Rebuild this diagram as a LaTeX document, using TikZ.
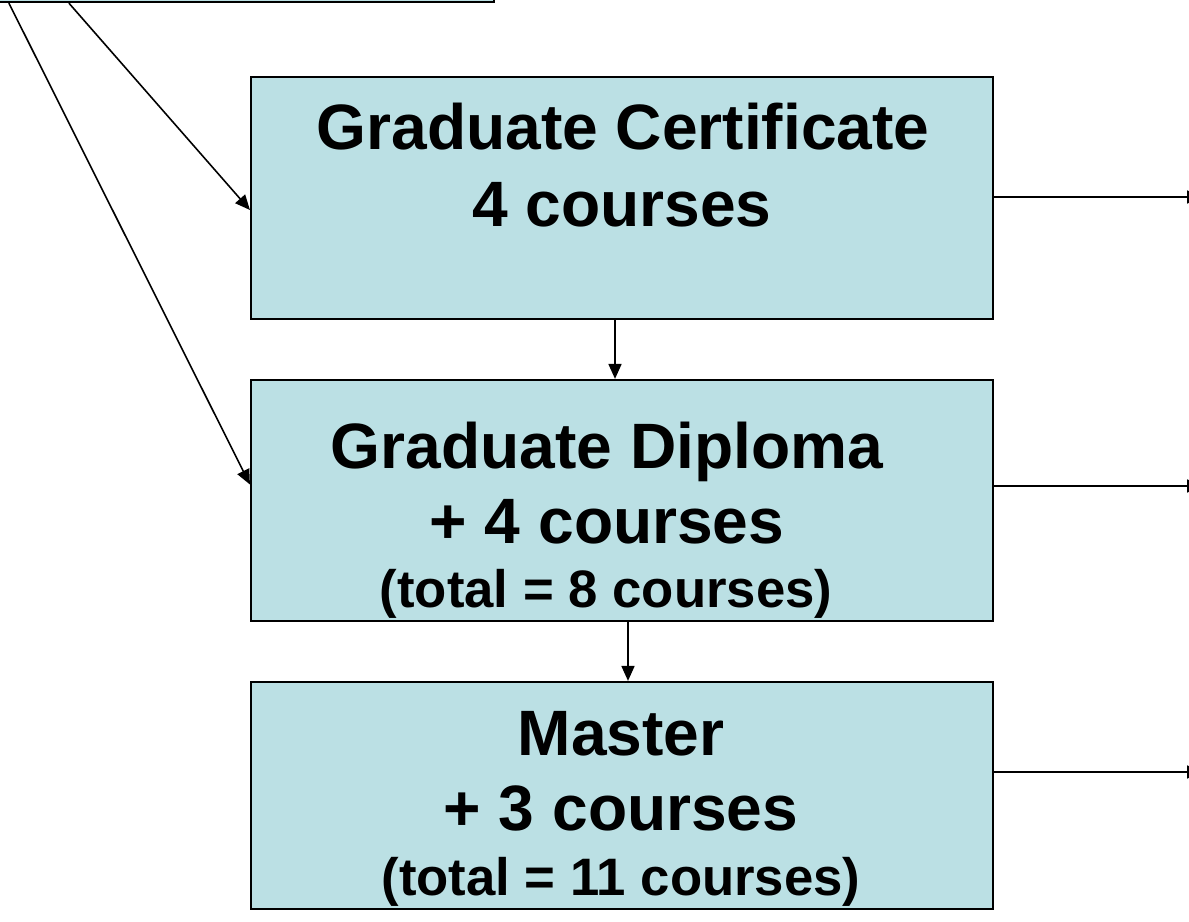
\documentclass[tikz,border=0pt]{standalone}
\usepackage{fontspec}
\setmainfont{Liberation Sans}
\usetikzlibrary{arrows.meta,calc,shadows}

\definecolor{stagefill}{RGB}{187,224,228}

\begin{document}
\begin{tikzpicture}[x=0.02cm, y=-0.02cm,
    stage/.style={draw, line width=1.3pt, fill=stagefill, minimum width=14.84cm,
        drop shadow={shadow xshift=0.6pt, shadow yshift=-0.6pt, opacity=0.35, fill=gray}},
    flow/.style={line width=0.9pt, -{Triangle[length=8.5pt, width=7.4pt]}},
    bigtext/.style={font=\fontsize{36.5}{43}\selectfont\bfseries, inner sep=0pt, anchor=base},
    smalltext/.style={font=\fontsize{30}{36}\selectfont\bfseries, inner sep=0pt, anchor=base}]
    \useasboundingbox (0,0) rectangle (1189,922);
    \clip (0,0) rectangle (1189,922);

    % Boxes
    \node[stage, minimum width=10.88cm, minimum height=1.24cm] (entry) at (222,-29) {};
    \node[stage, minimum height=4.84cm] (cert) at (622,198) {};
    \node[stage, minimum height=4.82cm] (dipl) at (622,500.5) {};
    \node[stage, minimum height=4.54cm] (mast) at (622,795.5) {};

    % Texts
    \node[bigtext] (certname) at (623,150) {Graduate Certificate};
    \node[bigtext] (certcount) at (622,226) {4 courses};
    \node[bigtext] (diplname) at (607,468) {Graduate Diploma};
    \node[bigtext] (diplcount) at (607,543) {+ 4 courses};
    \node[smalltext] (dipltotal) at (606,607) {(total = 8 courses)};
    \node[bigtext] (mastname) at (621,755) {Master};
    \node[bigtext] (mastcount) at (621,830) {+ 3 courses};
    \node[smalltext] (masttotal) at (621,895) {(total = 11 courses)};

    % Exits on the right
    \coordinate (outcert) at (1202,197);
    \coordinate (outdipl) at (1202,486);
    \coordinate (outmast) at (1202,772);

    % Transitions
    \draw[flow] ($(entry.south west)+(120,0)$) -- ($(cert.west)+(0,12)$);
    \draw[flow] ($(entry.south west)+(60,0)$) -- ($(dipl.west)+(0,-16)$);
    \draw[flow] ($(cert.south)+(-7,0)$) -- ($(dipl.north)+(-7,0)$);
    \draw[flow] ($(dipl.south)+(6,0)$) -- ($(mast.north)+(6,0)$);
    \draw[flow] (cert.east |- outcert) -- (outcert);
    \draw[flow] (dipl.east |- outdipl) -- (outdipl);
    \draw[flow] (mast.east |- outmast) -- (outmast);
\end{tikzpicture}
\end{document}
